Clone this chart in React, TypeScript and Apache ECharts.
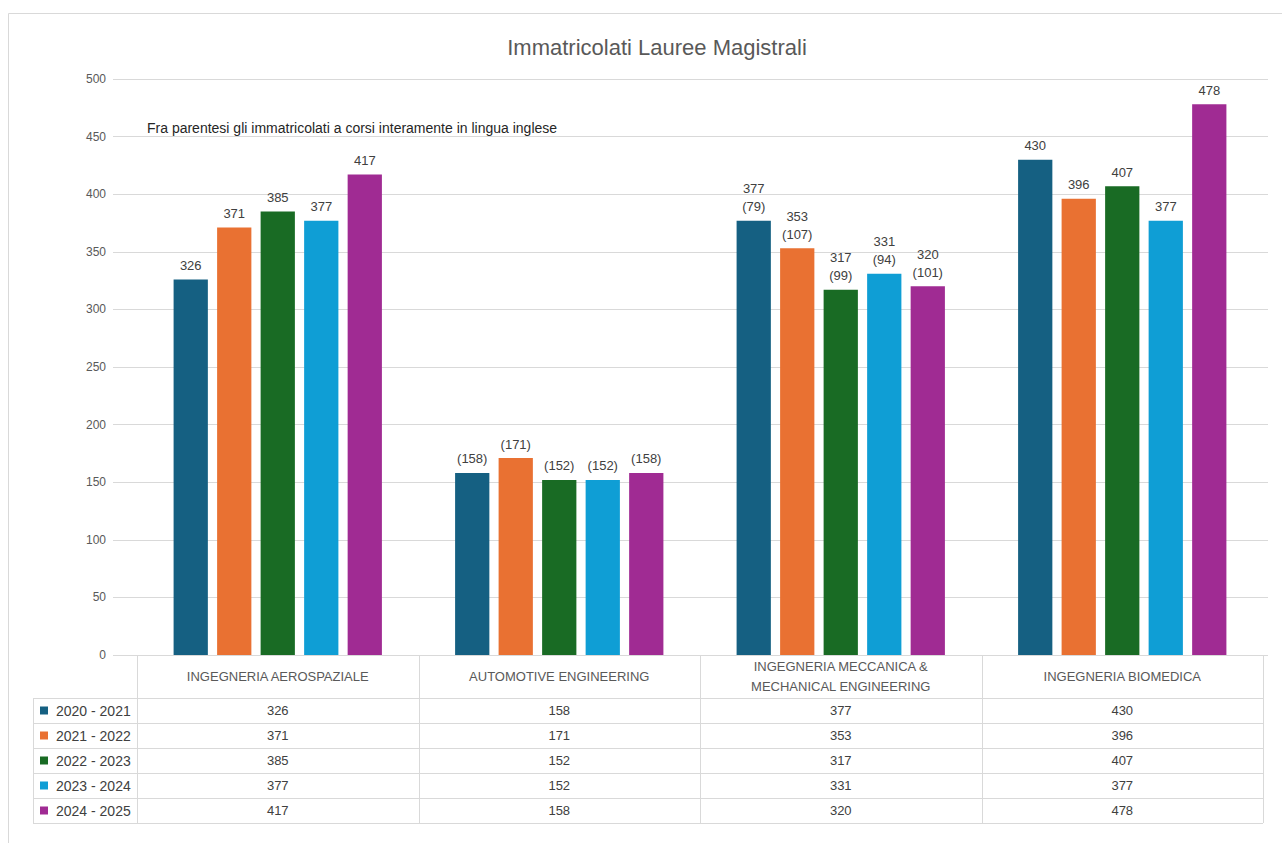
import React, { useEffect, useRef } from "react";
import * as echarts from "echarts";

const categories = [
  "INGEGNERIA AEROSPAZIALE",
  "AUTOMOTIVE ENGINEERING",
  "INGEGNERIA MECCANICA &\nMECHANICAL ENGINEERING",
  "INGEGNERIA BIOMEDICA",
];
const years = ["2020 - 2021", "2021 - 2022", "2022 - 2023", "2023 - 2024", "2024 - 2025"];

const v2020 = [326, 158, 377, 430];
const v2021 = [371, 171, 353, 396];
const v2022 = [385, 152, 317, 407];
const v2023 = [377, 152, 331, 377];
const v2024 = [417, 158, 320, 478];

// enrolled in courses entirely in English (shown in parentheses)
const e2020 = [null, 158, 79, null];
const e2021 = [null, 171, 107, null];
const e2022 = [null, 152, 99, null];
const e2023 = [null, 152, 94, null];
const e2024 = [null, 158, 101, null];

const seriesValues = [v2020, v2021, v2022, v2023, v2024];
const englishValues = [e2020, e2021, e2022, e2023, e2024];

const colors = ["#156082", "#E97132", "#196B24", "#0F9ED5", "#A02B93"];

const titleText = "Immatricolati Lauree Magistrali";
const noteText = "Fra parentesi gli immatricolati a corsi interamente in lingua inglese";

const yMin = 0;
const yMax = 500;
const yInterval = 50;

export default function App() {
  const ref = useRef<HTMLDivElement>(null);

  useEffect(() => {
    document.body.style.margin = "0";
    const chart = echarts.init(ref.current!, null, { renderer: "svg" });
    const FONT = "Liberation Sans";
    const GRID_TOP = 79;
    const GRID_BOTTOM = 188;

    chart.setOption({
      animation: false,
      color: colors,
      backgroundColor: "#ffffff",
      title: {
        text: titleText,
        left: 652,
        textAlign: "center",
        top: 31,
        textStyle: { fontFamily: FONT, fontSize: 22, fontWeight: "normal", color: "#595959" },
      },
      grid: [
        { left: 137, right: 19, top: GRID_TOP, bottom: GRID_BOTTOM },
        { left: 113, right: 14, top: GRID_TOP, bottom: GRID_BOTTOM },
      ],
      xAxis: [
        {
          type: "category",
          gridIndex: 0,
          data: categories,
          axisLine: { lineStyle: { color: "#d9d9d9" } },
          axisTick: { show: false },
          axisLabel: {
            interval: 0,
            margin: 21,
            verticalAlign: "middle",
            lineHeight: 20,
            fontSize: 13,
            color: "#595959",
            fontFamily: FONT,
          },
        },
        { type: "value", gridIndex: 1, show: false, min: 0, max: 1 },
      ],
      yAxis: [
        { type: "value", gridIndex: 0, min: yMin, max: yMax, interval: yInterval, show: false, splitLine: { show: false } },
        {
          type: "value",
          gridIndex: 1,
          min: yMin,
          max: yMax,
          interval: yInterval,
          axisLine: { show: false },
          axisTick: { show: false },
          axisLabel: { fontSize: 12, color: "#595959", fontFamily: FONT, margin: 7 },
          splitLine: { lineStyle: { color: "#d9d9d9", width: 1 } },
        },
      ],
      series: years.map((name, si) => ({
        type: "bar",
        name,
        xAxisIndex: 0,
        yAxisIndex: 0,
        data: seriesValues[si],
        barGap: "27%",
        barCategoryGap: "26%",
        label: {
          show: true,
          position: "top",
          distance: 5,
          fontSize: 13,
          lineHeight: 18,
          color: "#404040",
          fontFamily: FONT,
          formatter: (p: any) => {
            const eng = englishValues[si][p.dataIndex];
            if (eng == null) return String(p.value);
            if (eng === p.value) return "(" + eng + ")";
            return p.value + "\n(" + eng + ")";
          },
        },
      })),
    });

    // data table built from the same arrays
    const c0 = chart.convertToPixel({ xAxisIndex: 0 }, 0) as number;
    const c1 = chart.convertToPixel({ xAxisIndex: 0 }, 1) as number;
    const band = c1 - c0;
    const tableLeft = c0 - band / 2;
    const tableRight = tableLeft + band * categories.length;
    const axisY = chart.convertToPixel({ yAxisIndex: 0 }, 0) as number;
    const headerH = 43;
    const rowH = 25;
    const rowsTop = axisY + headerH;
    const tableBottom = rowsTop + rowH * years.length;
    const keyLeft = 33;
    const lineColor = "#d9d9d9";

    const graphics: any[] = [];
    graphics.push({
      type: "rect",
      shape: { x: 8.5, y: 13.5, width: 1400, height: 1000 },
      style: { fill: "none", stroke: "#d9d9d9", lineWidth: 1 },
      silent: true,
    });
    graphics.push({
      type: "text",
      x: 147,
      y: 128,
      style: {
        text: noteText,
        font: "14px 'Liberation Sans'",
        fill: "#262626",
        textVerticalAlign: "middle",
      },
    });
    // vertical lines
    for (let k = 0; k <= categories.length; k++) {
      const x = Math.round(tableLeft + band * k) + 0.5;
      graphics.push({
        type: "line",
        shape: { x1: x, y1: axisY, x2: x, y2: tableBottom },
        style: { stroke: lineColor, lineWidth: 1 },
      });
    }
    graphics.push({
      type: "line",
      shape: { x1: keyLeft + 0.5, y1: rowsTop, x2: keyLeft + 0.5, y2: tableBottom },
      style: { stroke: lineColor, lineWidth: 1 },
    });
    // horizontal lines
    for (let r = 0; r <= years.length; r++) {
      const y = Math.round(rowsTop + rowH * r) + 0.5;
      graphics.push({
        type: "line",
        shape: { x1: keyLeft, y1: y, x2: tableRight, y2: y },
        style: { stroke: lineColor, lineWidth: 1 },
      });
    }
    // values
    years.forEach((_, si) => {
      categories.forEach((__, ci) => {
        graphics.push({
          type: "text",
          x: tableLeft + band * ci + band / 2,
          y: rowsTop + rowH * si + rowH / 2,
          style: {
            text: String(seriesValues[si][ci]),
            font: "13px 'Liberation Sans'",
            fill: "#404040",
            textAlign: "center",
            textVerticalAlign: "middle",
          },
        });
      });
    });

    chart.setOption({
      legend: {
        orient: "vertical",
        left: 40,
        top: rowsTop + (rowH - 16) / 2,
        padding: 0,
        icon: "rect",
        itemWidth: 8,
        itemHeight: 8,
        itemGap: 9,
        textStyle: { fontSize: 14, lineHeight: 16, color: "#404040", fontFamily: FONT, padding: [0, 0, 0, 3] },
        data: years,
      },
      graphic: graphics,
    });

    return () => chart.dispose();
  }, []);

  return <div ref={ref} style={{ width: 1282, height: 843 }} />;
}
